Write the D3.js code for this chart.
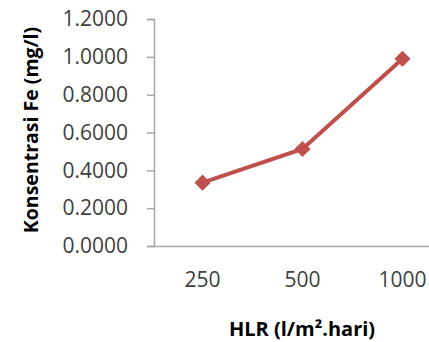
<!DOCTYPE html>
<html>
<head>
<meta charset="utf-8">
<script src="https://cdn.jsdelivr.net/npm/d3@7"></script>
<style>
  html, body { margin: 0; padding: 0; background: #fff; }
  svg { display: block; }
</style>
</head>
<body>
<div id="chart"></div>
<script>
// data
const categories = ["250", "500", "1000"];
const feValues = [0.335, 0.513, 0.990];
const yTicks = [0, 0.2, 0.4, 0.6, 0.8, 1.0, 1.2];

const W = 429, H = 342;
const lineColor = "#C0504D";
const axisColor = "#A6A6A6";

const svg = d3.select("#chart").append("svg")
    .attr("width", W)
    .attr("height", H);

// plot area runs off the right edge, as in the reference
const x = d3.scaleBand()
    .domain(categories)
    .range([152.5, 452.5]);

const y = d3.scaleLinear()
    .domain([0, 1.2])
    .range([246, 19]);

// y axis
const yAxis = svg.append("g")
    .attr("transform", "translate(154,0)")
    .call(d3.axisLeft(y).tickValues(yTicks).tickFormat(d3.format(".4f")).tickSize(7).tickPadding(19));

yAxis.select(".domain").attr("stroke", axisColor).attr("stroke-width", 1.5);
yAxis.selectAll(".tick line").attr("stroke", axisColor).attr("stroke-width", 1.5);
yAxis.selectAll(".tick text")
    .attr("font-family", "'Open Sans', sans-serif")
    .attr("font-size", "21px")
    .attr("fill", "#404040");

// x axis (no tick marks)
const xAxis = svg.append("g")
    .attr("transform", "translate(0,246)")
    .call(d3.axisBottom(x).tickSize(0).tickPadding(26));

xAxis.select(".domain").attr("stroke", axisColor).attr("stroke-width", 1.5);
xAxis.selectAll(".tick text")
    .attr("font-family", "'Open Sans', sans-serif")
    .attr("font-size", "21px")
    .attr("fill", "#404040");

// series line
const line = d3.line()
    .x((d, i) => x(categories[i]) + x.bandwidth() / 2)
    .y(d => y(d));

svg.append("path")
    .datum(feValues)
    .attr("fill", "none")
    .attr("stroke", lineColor)
    .attr("stroke-width", 4)
    .attr("d", line);

// diamond markers
svg.append("g")
    .selectAll("path")
    .data(feValues)
    .join("path")
    .attr("d", d3.symbol().type(d3.symbolSquare).size(130))
    .attr("fill", lineColor)
    .attr("transform", (d, i) => `translate(${x(categories[i]) + x.bandwidth() / 2},${y(d)}) rotate(45)`);

// axis titles
svg.append("text")
    .attr("x", 302)
    .attr("y", 336)
    .attr("text-anchor", "middle")
    .attr("font-family", "'Open Sans', sans-serif")
    .attr("font-weight", "bold")
    .attr("font-size", "20px")
    .attr("fill", "#000")
    .text("HLR (l/m\u00B2.hari)");

svg.append("text")
    .attr("transform", "translate(38,130) rotate(-90)")
    .attr("text-anchor", "middle")
    .attr("font-family", "'Open Sans', sans-serif")
    .attr("font-weight", "bold")
    .attr("font-size", "19.5px")
    .attr("fill", "#000")
    .text("Konsentrasi Fe (mg/l)");
</script>
</body>
</html>
